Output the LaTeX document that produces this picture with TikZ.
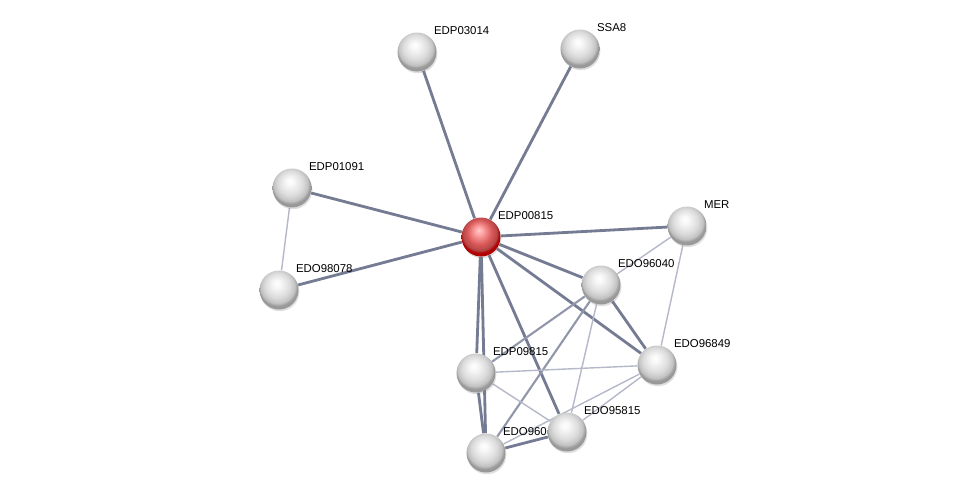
\documentclass[tikz,border=0pt]{standalone}
\usepackage{fontspec}
\setmainfont{Liberation Sans}
\usepackage{tikz}
\usetikzlibrary{positioning}
\usetikzlibrary{backgrounds,shadows}
\definecolor{edgedark}{HTML}{747B92}
\definecolor{edgemid}{HTML}{9196AB}
\definecolor{edgelight}{HTML}{B4B8C8}
\pgfdeclareradialshading{greyball}{\pgfqpoint{-3bp}{9bp}}{%
  color(0bp)=(white); color(5bp)=(white!97!black);
  color(16bp)=(black!14); color(22bp)=(black!24);
  color(25bp)=(black!40); color(50bp)=(black!40)}
\pgfdeclareradialshading{redball}{\pgfqpoint{-3bp}{9bp}}{%
  color(0bp)=(red!20!white); color(5bp)=(red!35!white);
  color(16bp)=(red!60!white!85!black); color(22bp)=(red!60!white!70!black);
  color(25bp)=(red!70!black); color(50bp)=(red!70!black)}
\tikzstyle{protein}=[circle,shading=greyball,minimum size=0.78cm,inner sep=0pt,
  drop shadow={opacity=0.25,shadow xshift=0.5pt,shadow yshift=-1pt}]
\tikzstyle{query}=[protein,shading=redball]
\tikzstyle{tag}=[inner sep=0.5pt,font=\fontsize{6.5pt}{8pt}\selectfont]
\tikzstyle{strong}=[draw=edgedark,line width=1.6pt]
\tikzstyle{medium}=[draw=edgemid,line width=1.2pt]
\tikzstyle{weak}=[draw=edgelight,line width=0.8pt]

\begin{document}
\begin{tikzpicture}[x=0.02cm,y=-0.02cm]
  \useasboundingbox (0,0) rectangle (975,498);
  % proteins
  \node[query]   (p00815) at (481,237) {};
  \node[protein] (p03014) at (417,52)  {};
  \node[protein] (ssa8)   at (580,49)  {};
  \node[protein] (p01091) at (292,188) {};
  \node[protein] (o98078) at (279,290) {};
  \node[protein] (mer)    at (687,226) {};
  \node[protein] (o96040) at (601,285) {};
  \node[protein] (o96849) at (657,365) {};
  \node[protein] (p09815) at (476,373) {};
  \node[protein] (o95815) at (567,432) {};
  \node[protein] (o960)   at (486,453) {};
  \begin{scope}[on background layer]
    % interactions
    \foreach \t in {p03014,ssa8,p01091,o98078,mer,o96040,o96849,p09815,o960,o95815}
      \path[strong] (p00815) -- (\t);
    \path[strong] (o96040) -- (o96849);
    \path[strong] (p09815) -- (o960);
    \path[strong] (o960) -- (o95815);
    \path[medium] (o96040) -- (p09815);
    \path[medium] (o96040) -- (o960);
    \path[weak] (o96040) -- (o95815);
    \path[weak] (p01091) -- (o98078);
    \path[weak] (mer) -- (o96040);
    \path[weak] (mer) -- (o96849);
    \path[weak] (o96849) -- (p09815);
    \path[weak] (o96849) -- (o95815);
    \path[weak] (o96849) -- (o960);
    \path[weak] (p09815) -- (o95815);
    % names
    \node[tag, above right=1pt and 1pt of p00815] (t00815) {EDP00815};
    \node[tag, above right=1pt and 1pt of p03014] (t03014) {EDP03014};
    \node[tag, above right=1pt and 1pt of ssa8]   (tssa8)  {SSA8};
    \node[tag, above right=1pt and 1pt of p01091] (t01091) {EDP01091};
    \node[tag, above right=1pt and 1pt of o98078] (t98078) {EDO98078};
    \node[tag, above right=1pt and 1pt of mer]    (tmer)   {MER};
    \node[tag, above right=1pt and 1pt of o96040] (t96040) {EDO96040};
    \node[tag, above right=1pt and 1pt of o96849] (t96849) {EDO96849};
    \node[tag, above right=1pt and 1pt of p09815] (t09815) {EDP09815};
    \node[tag, above right=1pt and 1pt of o95815] (t95815) {EDO95815};
    \node[tag, above right=1pt and 1pt of o960]   (t960)   {EDO960};
  \end{scope}
\end{tikzpicture}
\end{document}
